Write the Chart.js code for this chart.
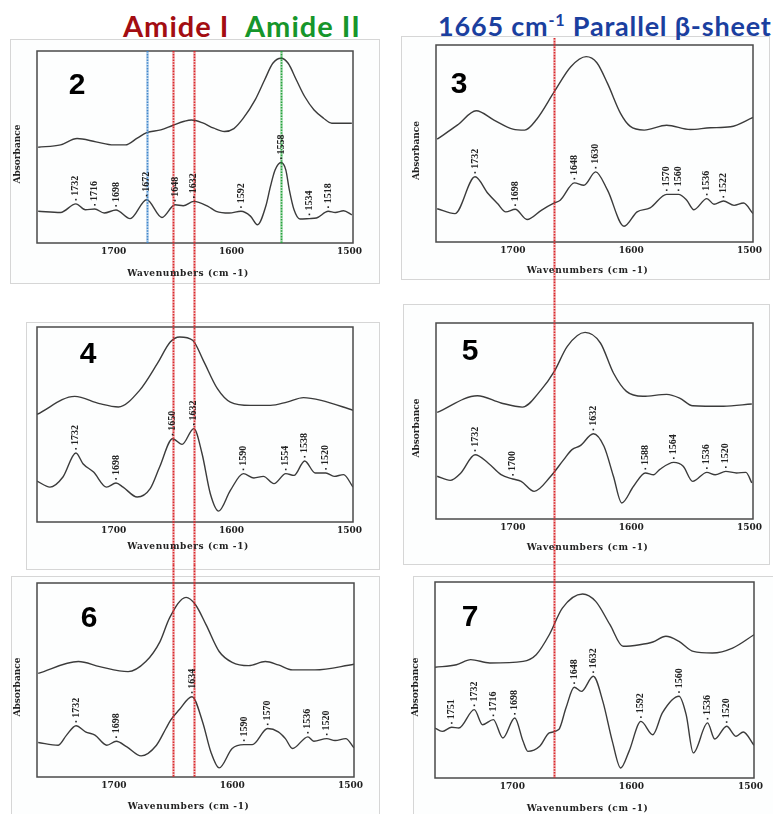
<!DOCTYPE html>
<html>
<head>
<meta charset="utf-8">
<script src="https://cdn.jsdelivr.net/npm/chart.js@4.4.1/dist/chart.umd.min.js"></script>
<style>
  body { margin: 0; background: #fff; }
  #fig { position: relative; width: 773px; height: 814px; overflow: hidden; }
  .sheet { position: absolute; border: 1px solid #d6d6d6; background: #fdfefe; }
  canvas { position: absolute; }
  .hd { position: absolute; font-family: Lato, "Open Sans", sans-serif; font-weight: 700; white-space: nowrap; line-height: 1; }
  .hd sup { font-size: 0.6em; vertical-align: 0.6em; line-height: 0; }
</style>
</head>
<body>
<div id="fig">
  <div class="sheet" style="left:10px;top:39px;width:368px;height:243px"></div>
  <div class="sheet" style="left:401px;top:36px;width:367px;height:242px"></div>
  <div class="sheet" style="left:26px;top:322px;width:352px;height:246px"></div>
  <div class="sheet" style="left:403px;top:304px;width:365px;height:259px"></div>
  <div class="sheet" style="left:11px;top:576px;width:367px;height:260px"></div>
  <div class="sheet" style="left:413px;top:576px;width:380px;height:260px"></div>

  <div class="hd" style="left:123px;top:11px;font-size:29px;letter-spacing:1px;color:#a30d12">Amide I</div>
  <div class="hd" style="left:245px;top:11px;font-size:29px;letter-spacing:1px;color:#16962b">Amide II</div>
  <div class="hd" style="left:438px;top:12px;font-size:27px;letter-spacing:0.8px;color:#1b3f9f">1665 cm<sup>-1</sup> Parallel β-sheet</div>
</div>

<script>
// === Data (wavenumber cm-1, relative absorbance 0-100) ===
const wnMin = 1497, wnMax = 1765;
const tickValues = [1700, 1600, 1500];

// panel 2
const p2AbsWn = [1764,1745,1731,1715,1700,1690,1680,1672,1660,1650,1640,1634,1625,1615,1606,1598,1590,1580,1572,1565,1558,1552,1545,1538,1530,1522,1515,1498];
const p2Abs   = [49.9,51.1,54.4,52.7,51.1,51.1,54.6,57.5,58.9,61.2,63.4,64.1,62.7,59.8,58.1,59.6,65.0,74.5,84.9,93.6,96.2,93.6,84.9,76.3,69.3,65.0,62.4,62.4];
const p2DerWn = [1764,1745,1732,1724,1716,1708,1698,1686,1672,1659,1648,1641,1632,1620,1613,1602,1592,1584,1578,1571,1567,1563,1558,1554,1551,1547,1542,1534,1528,1518,1512,1505,1498];
const p2Der   = [16.5,15.9,20.4,17.3,17.7,15.6,17.2,12.7,22.5,13.3,19.9,19.4,21.7,19.1,16.5,15.6,16.5,14.0,9.5,19.1,29.5,38.1,41.9,38.1,27.7,17.3,12.5,12.7,13.0,16.5,15.9,16.8,14.7];
const p2Peaks = [1732,1716,1698,1672,1648,1632,1592,1558,1534,1518];

// panel 3
const p3AbsWn = [1764,1747,1731,1716,1700,1690,1680,1665,1651,1638,1629,1620,1609,1601,1589,1570,1550,1533,1516,1497];
const p3Abs   = [52.2,59.3,66.6,61.9,57.3,56.8,62.2,76.3,89.0,94.1,91.0,80.5,65.3,58.8,56.8,59.3,57.1,58.0,58.5,63.2];
const p3DerWn = [1764,1749,1732,1721,1713,1706,1698,1688,1676,1665,1660,1648,1640,1630,1620,1606,1595,1584,1570,1560,1553,1547,1536,1530,1522,1513,1505,1497];
const p3Der   = [16.9,14.4,33.1,24.6,19.5,15.3,16.6,11.4,16.1,19.8,21.2,30.0,28.8,35.6,26.3,8.0,15.3,17.3,24.2,24.2,21.2,16.4,22.0,19.2,20.8,18.6,19.8,14.4];
const p3Peaks = [1732,1698,1648,1630,1570,1560,1536,1522];

// panel 4
const p4AbsWn = [1765,1733,1712,1696,1678,1663,1652,1644,1633,1624,1612,1601,1584,1567,1553,1539,1524,1497];
const p4Abs   = [55.2,64.4,60.7,59.0,67.5,81.2,92.3,94.9,93.2,82.9,68.4,61.5,59.8,59.8,61.5,63.8,62.4,57.3];
const p4DerWn = [1765,1754,1743,1732,1726,1717,1706,1698,1692,1680,1669,1661,1650,1642,1632,1625,1618,1611,1601,1590,1581,1573,1564,1554,1547,1538,1529,1520,1513,1505,1497];
const p4Der   = [21.0,17.9,23.1,35.4,29.9,25.6,17.9,20.0,17.9,12.8,17.1,28.2,42.7,39.8,47.9,35.0,14.5,5.6,16.2,24.8,22.6,23.4,19.7,24.8,23.9,31.3,25.1,25.1,23.4,24.3,17.9];
const p4Peaks = [1732,1698,1650,1632,1590,1554,1538,1520];

// panel 5
const p5AbsWn = [1764,1730,1710,1692,1676,1665,1654,1639,1626,1615,1604,1590,1570,1559,1548,1522,1498];
const p5Abs   = [54.4,62.9,59.2,57.1,66.0,75.3,88.1,95.2,89.8,74.5,65.1,62.6,63.6,61.7,57.8,57.5,58.7];
const p5DerWn = [1764,1753,1744,1732,1721,1710,1700,1693,1682,1668,1657,1650,1643,1632,1623,1615,1608,1598,1588,1581,1576,1564,1556,1548,1536,1529,1520,1511,1503,1498];
const p5Der   = [21.8,19.7,23.5,32.8,28.6,22.6,20.4,19.2,14.1,21.8,30.3,35.4,37.4,43.5,37.1,21.8,8.2,16.7,23.5,22.6,25.2,28.9,26.9,19.2,23.8,22.6,24.3,23.5,23.8,18.4];
const p5Peaks = [1732,1700,1632,1588,1564,1536,1520];

// panel 6
const p6AbsWn = [1764,1730,1712,1688,1673,1661,1653,1639,1631,1622,1611,1600,1586,1572,1561,1549,1530,1497];
const p6Abs   = [53.4,59.5,56.9,54.3,59.5,69.8,81.9,92.6,88.8,78.4,64.7,59.1,57.4,59.5,57.8,55.2,55.2,58.1];
const p6DerWn = [1764,1747,1740,1732,1724,1716,1706,1698,1689,1677,1664,1656,1652,1645,1634,1625,1618,1611,1600,1590,1583,1570,1561,1555,1549,1536,1531,1520,1513,1504,1497];
const p6Der   = [17.8,16.4,21.6,26.4,23.3,21.6,16.4,18.4,15.5,10.9,16.4,25.0,29.3,34.5,41.4,28.4,12.9,4.7,14.7,16.7,16.7,25.0,23.3,19.8,14.7,20.7,18.4,19.8,18.8,19.8,15.0];
const p6Peaks = [1732,1698,1634,1590,1570,1536,1520];

// panel 7
const p7AbsWn = [1765,1747,1735,1719,1691,1680,1669,1658,1641,1630,1618,1607,1593,1582,1571,1560,1548,1532,1515,1497];
const p7Abs   = [56.5,57.8,60.4,58.7,59.5,62.9,73.1,86.7,93.9,90.1,78.2,67.2,68.0,69.4,72.3,69.7,64.6,63.8,66.3,73.1];
const p7DerWn = [1765,1759,1751,1745,1732,1725,1716,1708,1698,1691,1687,1677,1669,1661,1655,1648,1642,1632,1624,1616,1609,1602,1592,1582,1574,1560,1554,1548,1536,1530,1520,1512,1506,1497];
const p7Der   = [25.5,23.8,25.9,25.5,34.9,27.2,29.8,20.4,30.6,18.7,13.6,16.2,23.0,24.7,35.7,46.3,44.2,51.9,39.1,18.7,5.1,13.6,28.9,22.1,33.2,41.7,32.3,12.8,28.1,19.9,26.4,21.3,23.5,16.7];
const p7Peaks = [1751,1732,1716,1698,1648,1632,1592,1560,1536,1520];

// marker lines (wavenumbers)
const amideIWn = [1650, 1632];
const amideIIWn = 1558;
const helixWn = 1672;
const parallelWn = 1665;

// === Styles ===
const RED = '#d9262a', BLUE = '#3f86cc', GREEN = '#23a23a';
const LINE = '#3b3b3b';
const SERIF = '"DejaVu Serif", "Liberation Serif", serif';
const AXIS_H = 20;

const panels = [
  { num: '2', box: [0, 38, 390, 262], frame: [37, 51, 353, 243], numAt: [40, 35], yLabel: true, titleGap: 31,
    absWn: p2AbsWn, abs: p2Abs, derWn: p2DerWn, der: p2Der, peaks: p2Peaks,
    guides: [
      { wn: helixWn, color: BLUE, from: 'frame', to: 'frame' },
      { wn: amideIIWn, color: GREEN, from: 'frame', to: 'frame' },
      { wn: amideIWn[0], color: RED, from: 'frame', to: 'canvas' },
      { wn: amideIWn[1], color: RED, from: 'frame', to: 'canvas' }
    ] },
  { num: '3', box: [390, 38, 383, 257], frame: [436, 45, 753, 242], numAt: [23, 40], yLabel: true, titleGap: 29,
    absWn: p3AbsWn, abs: p3Abs, derWn: p3DerWn, der: p3Der, peaks: p3Peaks,
    guides: [{ wn: parallelWn, color: RED, from: 'canvas', to: 'canvas' }] },
  { num: '4', box: [0, 300, 390, 265], frame: [37, 327, 353, 522], numAt: [51, 28], yLabel: false, titleGap: 25,
    absWn: p4AbsWn, abs: p4Abs, derWn: p4DerWn, der: p4Der, peaks: p4Peaks,
    guides: [
      { wn: amideIWn[0], color: RED, from: 'canvas', to: 'canvas' },
      { wn: amideIWn[1], color: RED, from: 'canvas', to: 'canvas' }
    ] },
  { num: '5', box: [390, 295, 383, 267], frame: [436, 323, 753, 519], numAt: [34, 29], yLabel: true, titleGap: 29,
    absWn: p5AbsWn, abs: p5Abs, derWn: p5DerWn, der: p5Der, peaks: p5Peaks,
    guides: [{ wn: parallelWn, color: RED, from: 'canvas', to: 'canvas' }] },
  { num: '6', box: [0, 565, 390, 249], frame: [37, 583, 354, 777], numAt: [52, 36], yLabel: true, titleGap: 30,
    absWn: p6AbsWn, abs: p6Abs, derWn: p6DerWn, der: p6Der, peaks: p6Peaks,
    guides: [
      { wn: amideIWn[0], color: RED, from: 'canvas', to: 'frame' },
      { wn: amideIWn[1], color: RED, from: 'canvas', to: 'frame' }
    ] },
  { num: '7', box: [390, 562, 383, 252], frame: [435, 582, 754, 778], numAt: [35, 36], yLabel: true, titleGap: 31,
    absWn: p7AbsWn, abs: p7Abs, derWn: p7DerWn, der: p7Der, peaks: p7Peaks,
    guides: [{ wn: parallelWn, color: RED, from: 'canvas', to: 'frame' }] }
];

// === Plugin: frame, guide lines, peak labels, axis texts ===
const spectraDecor = {
  id: 'spectraDecor',
  afterDatasetsDraw(chart, args, opts) {
    const p = opts.panel;
    const { ctx, chartArea: a, scales: { x, y } } = chart;
    ctx.save();

    // frame
    ctx.strokeStyle = '#4a4a4a';
    ctx.lineWidth = 1.5;
    ctx.strokeRect(a.left, a.top, a.right - a.left, a.bottom - a.top);

    // guide lines
    p.guides.forEach(g => {
      const gx = Math.round(x.getPixelForValue(g.wn)) + 0.5;
      const y0 = g.from === 'frame' ? a.top : 0;
      const y1 = g.to === 'frame' ? a.bottom : chart.height;
      ctx.globalAlpha = 0.25;
      ctx.strokeStyle = g.color;
      ctx.lineWidth = 3;
      ctx.setLineDash([]);
      ctx.beginPath(); ctx.moveTo(gx, y0); ctx.lineTo(gx, y1); ctx.stroke();
      ctx.globalAlpha = 1;
      ctx.lineWidth = 1.6;
      ctx.setLineDash([1.6, 1.2]);
      ctx.beginPath(); ctx.moveTo(gx, y0); ctx.lineTo(gx, y1); ctx.stroke();
    });
    ctx.setLineDash([]);

    // peak labels
    ctx.fillStyle = '#222';
    ctx.font = 'bold 10px "Liberation Serif", serif';
    p.peaks.forEach(wn => {
      const v = p.der[p.derWn.indexOf(wn)];
      const px = x.getPixelForValue(wn), py = y.getPixelForValue(v);
      ctx.fillRect(px - 0.8, py - 5, 1.6, 1.6);
      ctx.save();
      ctx.translate(px, py - 8);
      ctx.rotate(-Math.PI / 2);
      ctx.textAlign = 'left';
      ctx.textBaseline = 'middle';
      ctx.fillText(String(wn), 0, 0);
      ctx.restore();
    });

    // axis title
    ctx.font = 'bold 9px ' + SERIF;
    ctx.fillStyle = '#222';
    ctx.textAlign = 'center';
    ctx.textBaseline = 'middle';
    ctx.letterSpacing = '0.6px';
    ctx.fillText('Wavenumbers (cm -1)', (a.left + a.right) / 2 - 7, a.bottom + p.titleGap);
    ctx.letterSpacing = '0px';

    if (p.yLabel) {
      ctx.save();
      ctx.translate(a.left - 19, (a.top + a.bottom) / 2 + 7);
      ctx.rotate(-Math.PI / 2);
      ctx.fillText('Absorbance', 0, 0);
      ctx.restore();
    }

    // panel number
    ctx.font = 'bold 30px "Liberation Sans", Arial, sans-serif';
    ctx.fillStyle = '#000';
    ctx.fillText(p.num, a.left + p.numAt[0], a.top + p.numAt[1]);

    ctx.restore();
  }
};

const fig = document.getElementById('fig');

panels.forEach(p => {
  const [bx, by, bw, bh] = p.box;
  const [fl, ft, fr, fb] = p.frame;
  const cv = document.createElement('canvas');
  cv.width = bw; cv.height = bh;
  cv.style.left = bx + 'px'; cv.style.top = by + 'px';
  cv.style.width = bw + 'px'; cv.style.height = bh + 'px';
  fig.appendChild(cv);

  const lineSet = (wns, vals) => ({
    data: wns.map((w, i) => ({ x: w, y: vals[i] })),
    borderColor: LINE,
    borderWidth: 1.4,
    pointRadius: 0,
    fill: false,
    cubicInterpolationMode: 'monotone'
  });

  new Chart(cv.getContext('2d'), {
    type: 'line',
    data: { datasets: [lineSet(p.absWn, p.abs), lineSet(p.derWn, p.der)] },
    options: {
      responsive: false,
      animation: false,
      devicePixelRatio: 1,
      layout: { padding: { left: fl - bx, right: bx + bw - fr, top: ft - by, bottom: by + bh - fb - AXIS_H } },
      plugins: { legend: { display: false }, tooltip: { enabled: false }, spectraDecor: { panel: p } },
      scales: {
        x: {
          type: 'linear', min: wnMin, max: wnMax, reverse: true,
          grid: { display: false, drawTicks: false },
          border: { display: false },
          ticks: { font: { family: SERIF, size: 9, weight: 'bold' }, color: '#222', padding: 3, maxRotation: 0, autoSkip: false,
                   callback: v => String(v) },
          afterBuildTicks: s => { s.ticks = tickValues.map(v => ({ value: v })); },
          afterFit: s => { s.height = AXIS_H; }
        },
        y: { min: 0, max: 100, display: false }
      }
    },
    plugins: [spectraDecor]
  });
});
</script>
</body>
</html>
